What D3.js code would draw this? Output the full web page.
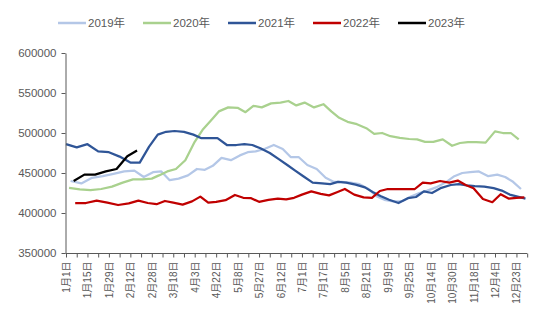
<!DOCTYPE html>
<html>
<head>
<meta charset="utf-8">
<script src="https://cdn.jsdelivr.net/npm/d3@7"></script>
<style>
  body { margin: 0; background: #fff; }
  svg text { font-family: "Liberation Sans", Arial, "Noto Sans CJK SC", sans-serif; }
</style>
</head>
<body>
<svg id="chart"></svg>
<script>
// weekly figures, one value per Friday of each year
let years = ['2019年', '2020年', '2021年', '2022年', '2023年'];
let colors = ['#b4c7e7', '#a9d18e', '#2f5597', '#c00000', '#000000'];

let v2019 = [440000, 437000, 444000, 446000, 449000, 452000, 453000, 445000, 451000, 452000,
  441000, 443000, 447000, 455000, 454000, 459000, 469000, 466000, 472000, 476000,
  477000, 480000, 485000, 480000, 470000, 470000, 460000, 455000, 444000, 439000,
  439000, 438000, 436000, 430000, 421000, 416500, 414500, 415000, 421000, 425000,
  428000, 432000, 438000, 446000, 450000, 451000, 452000, 446000, 448000, 445000,
  439000, 430000];
let v2020 = [431500, 429500, 428500, 430000, 433000, 438000, 442000, 442000, 443000, 447000,
  452000, 455000, 466000, 489000, 504000, 515000, 527000, 532000, 531500, 526000,
  534000, 532000, 537000, 538000, 540000, 534500, 538000, 532000, 536000, 527000,
  519000, 514000, 511000, 506000, 499000, 500000, 496000, 494000, 492500, 492000,
  489000, 489000, 492000, 484000, 487500, 488500, 488500, 488000, 502000, 500000,
  500000, 492000];
let v2021 = [486000, 482000, 486000, 477000, 476000, 470500, 463000, 463000, 483000, 498000,
  501500, 502500, 501500, 498000, 493500, 493500, 493500, 485000, 485000, 486000,
  485000, 481000, 475000, 467000, 460000, 453000, 446000, 438000, 437000, 436000,
  439000, 438000, 435500, 432000, 426000, 421000, 416500, 412500, 418500, 420000,
  427000, 425000, 431500, 435000, 436000, 434500, 433500, 433000, 431000, 428000,
  423000, 420500, 418000];
let v2022 = [412500, 412500, 415500, 413000, 410000, 412000, 415500, 412500, 411000, 415000,
  413000, 410500, 414500, 420500, 413000, 414000, 416000, 422500, 419000, 418500,
  414000, 416500, 418000, 417000, 419000, 423000, 427000, 424000, 422000, 426000,
  430000, 423000, 419500, 419000, 427500, 430000, 430000, 430000, 430000, 438000,
  437000, 440000, 438000, 440500, 435000, 431000, 417500, 413500, 423500, 418000,
  419000, 419500];
let v2023 = [440000, 448000, 448000, 452000, 455000, 471000, 478000];

let seriesValues = [v2019, v2020, v2021, v2022, v2023];
let seriesYears = [2019, 2020, 2021, 2022, 2023];

let tickLabels = ['1月1日', '1月15日', '1月29日', '2月12日', '2月28日', '3月18日', '4月3日',
  '4月22日', '5月8日', '5月27日', '6月12日', '7月1日', '7月17日', '8月5日', '8月21日',
  '9月9日', '9月25日', '10月14日', '10月30日', '11月18日', '12月4日', '12月23日'];
let yTicks = [350000, 400000, 450000, 500000, 550000, 600000];

let width = 550;
let height = 330;
let plotLeft = 66;
let plotTop = 53;
let plotBottom = 253;
let labelStep = 21.45;

let svg = d3.select('#chart').attr('width', width).attr('height', height);

// month/day -> day of a common (non-leap) year
let baseYear = 2021;
let dayOf = (m, d) => d3.timeDay.count(new Date(baseYear, 0, 1), new Date(baseYear, m, d));

let labelDays = tickLabels.map(t => {
  let m = t.match(/(\d+)月(\d+)日/);
  return dayOf(+m[1] - 1, +m[2]);
});

// labels sit evenly along the axis, so the date scale is piecewise
let x = d3.scaleLinear()
  .domain(labelDays)
  .range(labelDays.map((d, i) => plotLeft + i * labelStep));

let y = d3.scaleLinear()
  .domain([350000, 600000])
  .range([plotBottom, plotTop]);

let plotRight = plotLeft + (tickLabels.length - 0.5) * labelStep;

// build point lists, each year on its own Fridays
let series = seriesValues.map((vals, i) => {
  let yr = seriesYears[i];
  let fridays = d3.timeFriday.range(new Date(yr, 0, 1), new Date(yr + 1, 0, 1));
  return vals.map((v, j) => ({
    day: dayOf(fridays[j].getMonth(), fridays[j].getDate()),
    value: v
  }));
});

let line = d3.line()
  .x(d => x(d.day))
  .y(d => y(d.value));

svg.append('g')
  .selectAll('path')
  .data(series)
  .enter().append('path')
  .attr('d', line)
  .attr('fill', 'none')
  .attr('stroke', (d, i) => colors[i])
  .attr('stroke-width', 2.25)
  .attr('stroke-linejoin', 'round');

//y axis
let yAxis = svg.append('g')
  .attr('transform', `translate(${plotLeft - 0.5},0)`)
  .call(d3.axisLeft(y).tickValues(yTicks).tickSize(4).tickSizeOuter(0).tickFormat(d3.format('d')));
yAxis.select('.domain').attr('stroke', '#595959');
yAxis.selectAll('.tick line').attr('stroke', '#595959');
yAxis.selectAll('text')
  .attr('x', -9)
  .attr('fill', '#595959')
  .attr('font-size', '11.5px');

//x axis: labelled ticks plus a plain tick between each pair
let xAxis = svg.append('g')
  .attr('transform', `translate(0,${plotBottom + 0.5})`)
  .call(d3.axisBottom(x).tickValues(labelDays).tickSize(4).tickSizeOuter(0)
    .tickFormat((d, i) => tickLabels[i]));
xAxis.select('.domain').remove();
xAxis.selectAll('.tick line').attr('stroke', '#595959');
xAxis.selectAll('text')
  .attr('fill', '#595959')
  .attr('font-size', '10px')
  .attr('text-anchor', 'end')
  .attr('transform', 'rotate(-90)')
  .attr('x', -8)
  .attr('y', 0)
  .attr('dy', '0.35em');

let midDays = labelDays.map((d, i) => x.invert(plotLeft + (i + 0.5) * labelStep));
svg.append('g')
  .attr('transform', `translate(0,${plotBottom + 0.5})`)
  .call(d3.axisBottom(x).tickValues(midDays).tickSize(4).tickFormat(''))
  .call(g => g.select('.domain').remove())
  .selectAll('.tick line').attr('stroke', '#595959');

svg.append('line')
  .attr('x1', plotLeft - 0.5)
  .attr('x2', plotRight)
  .attr('y1', plotBottom + 0.5)
  .attr('y2', plotBottom + 0.5)
  .attr('stroke', '#595959');

//legend
let legend = svg.append('g')
  .attr('transform', 'translate(58,23)');

let item = legend.selectAll('g')
  .data(years)
  .enter().append('g')
  .attr('transform', (d, i) => `translate(${i * 85},0)`);

item.append('line')
  .attr('x1', 0)
  .attr('x2', 28)
  .attr('stroke', (d, i) => colors[i])
  .attr('stroke-width', 2.5);

item.append('text')
  .attr('x', 30)
  .attr('dy', '0.35em')
  .attr('fill', '#595959')
  .attr('font-size', '11.5px')
  .text(d => d);
</script>
</body>
</html>
